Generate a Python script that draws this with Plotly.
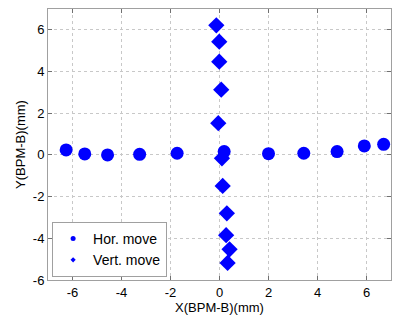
import plotly.graph_objects as go

hor_x = [-6.26, -5.5, -4.57, -3.26, -1.73, 0.19, 2.0, 3.44, 4.80, 5.91, 6.70]
hor_y = [0.24, 0.05, 0.0, 0.03, 0.08, 0.16, 0.06, 0.08, 0.16, 0.43, 0.51]

ver_x = [-0.13, -0.01, -0.01, 0.07, -0.05, 0.1, 0.13, 0.3, 0.27, 0.41, 0.33]
ver_y = [6.22, 5.43, 4.47, 3.13, 1.52, -0.16, -1.49, -2.8, -3.85, -4.53, -5.18]

x_ticks = [-6, -4, -2, 0, 2, 4, 6]
y_ticks = [-6, -4, -2, 0, 2, 4, 6]

blue = "#0000ff"
font = "Liberation Sans, Arial, sans-serif"

fig = go.Figure()
fig.add_trace(go.Scatter(x=hor_x, y=hor_y, mode="markers", showlegend=False,
                         marker=dict(symbol="circle", size=13, color=blue)))
fig.add_trace(go.Scatter(x=ver_x, y=ver_y, mode="markers", showlegend=False,
                         marker=dict(symbol="diamond", size=12.5, color=blue)))
# legend entries (small markers as in reference)
fig.add_trace(go.Scatter(x=[None], y=[None], mode="markers", name="Hor. move",
                         marker=dict(symbol="circle", size=5, color=blue)))
fig.add_trace(go.Scatter(x=[None], y=[None], mode="markers", name="Vert. move",
                         marker=dict(symbol="diamond", size=4, color=blue)))

axis_common = dict(showgrid=True, gridcolor="#c8c8c8", griddash="dot", gridwidth=1,
                   zeroline=False, showline=True, linecolor="#a0a0a0", linewidth=1,
                   mirror="ticks", ticks="inside", ticklen=4, tickcolor="#707070",
                   tickfont=dict(family=font, size=13, color="#000000"))

# The page body has an 8px default margin, so the figure is sized/margined to compensate.
fig.update_layout(
    width=392, height=312,
    margin=dict(l=40, r=9, t=1, b=40),
    paper_bgcolor="white", plot_bgcolor="white",
    font=dict(family=font, size=13, color="#000000"),
    xaxis=dict(range=[-7, 7], tickvals=x_ticks, ticktext=[str(v) for v in x_ticks],
               title=dict(text="X(BPM-B)(mm)", standoff=0, font=dict(size=13)),
               automargin=False, **axis_common),
    yaxis=dict(range=[-6, 7], tickvals=y_ticks, ticktext=[str(v) for v in y_ticks],
               title=dict(text="Y(BPM-B)(mm)", standoff=4, font=dict(size=13)),
               automargin=False, **axis_common),
    legend=dict(x=0.012, y=0.011, xanchor="left", yanchor="bottom",
                bgcolor="white", bordercolor="#a0a0a0", borderwidth=1,
                font=dict(family=font, size=14), tracegroupgap=0,
                itemwidth=30),
)

fig.write_html("out.html")
